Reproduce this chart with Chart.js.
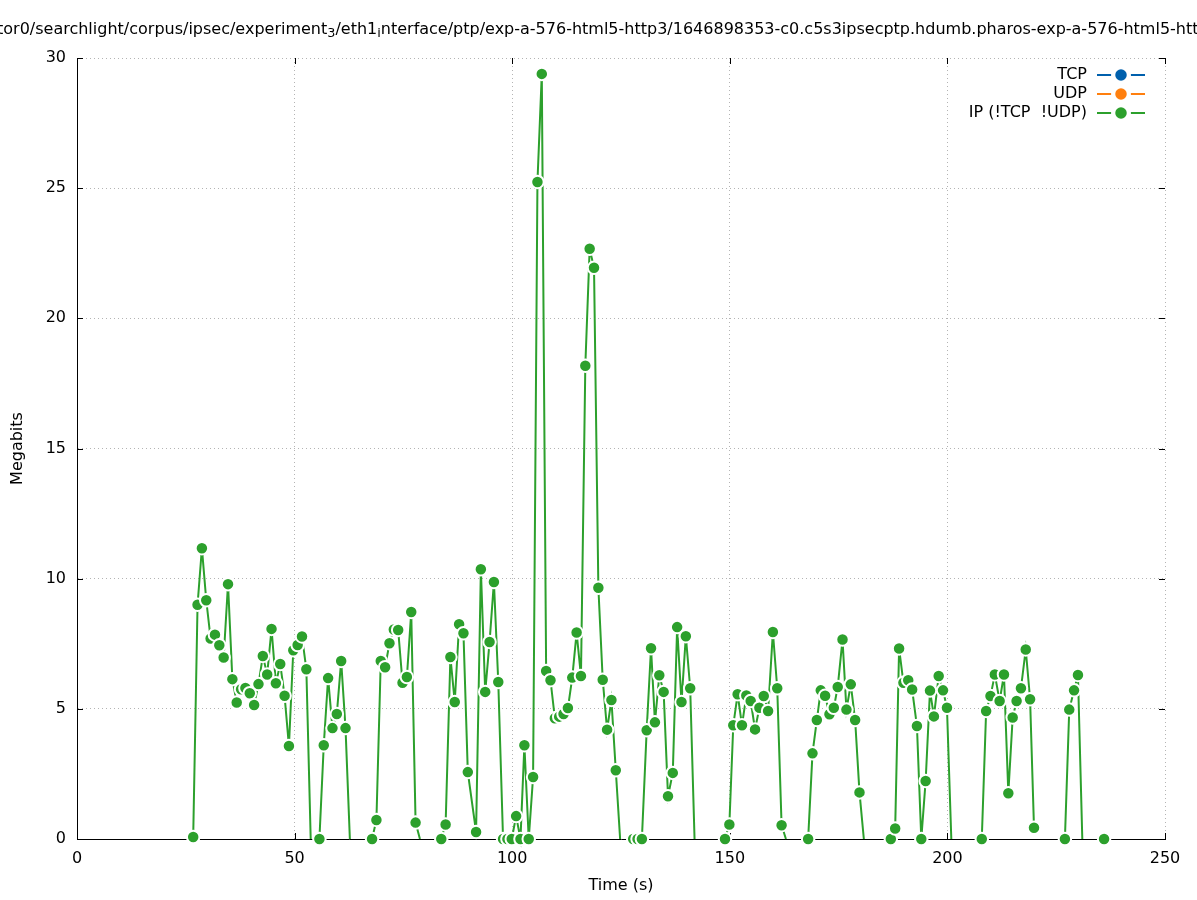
<!DOCTYPE html>
<html>
<head>
<meta charset="utf-8">
<script src="https://cdn.jsdelivr.net/npm/chart.js@4.4.1/dist/chart.umd.min.js"></script>
<style>
html,body{margin:0;padding:0;background:#fff;}
#wrap{width:1197px;height:900px;position:relative;}
</style>
</head>
<body>
<div id="wrap"><canvas id="c" width="1197" height="900"></canvas></div>
<script>
// ---- text ----
const titleParts = [
  ['tor0/searchlight/corpus/ipsec/experiment', false],
  ['3', true],
  ['/eth1', false],
  ['i', true],
  ['nterface/ptp/exp-a-576-html5-http3/1646898353-c0.c5s3ipsecptp.hdumb.pharos-exp-a-576-html5-http3', false]
];
const xTitle = 'Time (s)';
const yTitle = 'Megabits';
const seriesLabels = ['TCP', 'UDP', 'IP (!TCP  !UDP)'];
const seriesColors = ['#0060ad', '#ff7f0e', '#2ca02c'];

// ---- ticks ----
const xTicks = [0, 50, 100, 150, 200, 250];
const yTicks = [0, 5, 10, 15, 20, 25, 30];

// ---- data ----
const tcpTimes = [];
const tcpValues = [];
const udpTimes = [];
const udpValues = [];

const ipTimes = [
  26.7, 27.7, 28.7, 29.7, 30.7, 31.7, 32.7, 33.7, 34.7, 35.7, 36.7, 37.7, 38.7, 39.7, 40.7,
  41.7, 42.7, 43.7, 44.7, 45.7, 46.7, 47.7, 48.7, 49.7, 50.7, 51.7, 52.7, 53.7, 54.7,
  55.7, 56.7, 57.7, 58.7, 59.7, 60.7, 61.7, 62.7, 63.7,
  67.8, 68.8, 69.8, 70.8, 71.8, 72.8, 73.8, 74.8, 75.8, 76.8, 77.8, 78.8, 79.8,
  83.7, 84.7, 85.8, 86.8, 87.8, 88.8, 89.8, 91.7, 92.8, 93.8, 94.8, 95.8, 96.8,
  97.9, 98.9, 99.9, 100.9, 101.9, 102.8, 103.8, 104.8, 105.8, 106.8, 107.8, 108.8, 109.8,
  110.8, 111.8, 112.8, 113.8, 114.8, 115.8, 116.8, 117.8, 118.8, 119.8, 120.8, 121.8,
  122.8, 123.8, 124.8, 125.8,
  127.8, 128.8, 129.8, 130.9, 131.9, 132.8, 133.8, 134.8, 135.8, 136.9, 137.9, 138.9,
  139.9, 140.9, 141.9, 142.9,
  148.9, 149.9, 150.8, 151.8, 152.8, 153.8, 154.8, 155.8, 156.8, 157.8, 158.8, 159.9,
  160.9, 161.9, 162.9, 163.9,
  168.0, 169.0, 170.0, 170.9, 171.9, 172.9, 173.9, 174.8, 175.9, 176.8, 177.8, 178.8,
  179.8, 180.8, 181.8,
  187.0, 188.0, 188.9, 189.9, 191.0, 191.9, 193.0, 194.0, 195.0, 196.0, 196.9, 198.0,
  199.0, 199.9, 200.9, 201.9,
  207.9, 208.9, 209.9, 210.9, 212.0, 213.0, 214.0, 215.0, 215.9, 216.9, 218.0, 219.0,
  219.9, 220.9,
  227.0, 228.0, 229.1, 230.0, 231.0, 232.0,
  236.0
];
const ipValues = [
  0.08, 9.0, 11.17, 9.17, 7.7, 7.85, 7.44, 6.97, 9.79, 6.14, 5.24, 5.75, 5.8, 5.6, 5.15,
  5.95, 7.03, 6.32, 8.07, 5.98, 6.72, 5.5, 3.57, 7.25, 7.45, 7.78, 6.52, 0, null,
  0, 3.6, 6.18, 4.26, 4.8, 6.84, 4.26, 0, null,
  0, 0.73, 6.84, 6.6, 7.52, 8.05, 8.03, 6.0, 6.22, 8.72, 0.63, 0, null,
  0, 0.56, 6.99, 5.26, 8.25, 7.9, 2.57, 0.27, 10.36, 5.65, 7.57, 9.87, 6.03,
  0, 0, 0, 0.88, 0, 3.6, 0, 2.38, 25.24, 29.39, 6.45, 6.1, 4.64,
  4.7, 4.8, 5.03, 6.2, 7.93, 6.26, 18.18, 22.67, 21.94, 9.65, 6.12, 4.2,
  5.34, 2.64, 0, null,
  0, 0, 0, 4.18, 7.33, 4.48, 6.29, 5.65, 1.64, 2.54, 8.14, 5.26,
  7.79, 5.79, 0, null,
  0, 0.56, 4.37, 5.56, 4.37, 5.51, 5.3, 4.21, 5.04, 5.49, 4.92, 7.95,
  5.79, 0.53, 0, null,
  0, 3.29, 4.57, 5.71, 5.5, 4.79, 5.04, 5.84, 7.66, 4.97, 5.94, 4.57,
  1.79, 0, null,
  0, 0.4, 7.32, 6.0, 6.1, 5.74, 4.34, 0, 2.23, 5.7, 4.71, 6.26,
  5.71, 5.04, 0, null,
  0, 4.92, 5.49, 6.32, 5.3, 6.32, 1.76, 4.67, 5.3, 5.79, 7.28, 5.37,
  0.43, null,
  0, 4.97, 5.71, 6.3, 0, null,
  0
];

function pairs(ts, vs) { return ts.map((t, i) => ({ x: t, y: vs[i] })); }

const FONT = "'DejaVu Sans', 'Liberation Sans', sans-serif";

function radiusFor(values) {
  return ctx => {
    const i = ctx.dataIndex;
    const v = values[i];
    if (v === null || v === undefined) return 0;
    const prev = values[i - 1], next = values[i + 1];
    if (v === 0 && prev && (next === null || next === undefined)) return 0;
    return 6.25;
  };
}

function makeDataset(label, color, ts, vs) {
  return {
    label: label,
    data: pairs(ts, vs),
    borderColor: color,
    backgroundColor: color,
    borderWidth: 2,
    pointRadius: radiusFor(vs),
    pointHoverRadius: radiusFor(vs),
    pointBackgroundColor: color,
    pointBorderColor: '#ffffff',
    pointBorderWidth: 2,
    tension: 0,
    spanGaps: false,
    clip: false
  };
}

const decor = {
  id: 'decor',
  beforeDatasetsDraw(chart) {
    const ctx = chart.ctx, a = chart.chartArea, xs = chart.scales.x, ys = chart.scales.y;
    ctx.save();
    ctx.strokeStyle = '#000';
    ctx.lineWidth = 1;
    const L = 6;
    ctx.beginPath();
    xTicks.forEach(v => {
      const px = Math.round(xs.getPixelForValue(v)) + 0.5;
      ctx.moveTo(px, a.bottom); ctx.lineTo(px, a.bottom - L);
      ctx.moveTo(px, a.top); ctx.lineTo(px, a.top + L);
    });
    yTicks.forEach(v => {
      const py = Math.round(ys.getPixelForValue(v)) + 0.5;
      ctx.moveTo(a.left, py); ctx.lineTo(a.left + L, py);
      ctx.moveTo(a.right, py); ctx.lineTo(a.right - L, py);
    });
    ctx.stroke();
    ctx.restore();
  },
  afterDraw(chart) {
    const ctx = chart.ctx, a = chart.chartArea;
    ctx.save();
    ctx.fillStyle = '#000';
    // title with subscripts
    let x = -3;
    const ty = 30;
    ctx.textBaseline = 'middle';
    ctx.textAlign = 'left';
    titleParts.forEach(([txt, sub]) => {
      ctx.font = (sub ? '12.8px ' : '16px ') + FONT;
      ctx.fillText(txt, x, sub ? ty + 4 : ty);
      x += ctx.measureText(txt).width;
    });
    // axis titles
    ctx.font = '16px ' + FONT;
    ctx.textAlign = 'center';
    ctx.fillText(xTitle, (a.left + a.right) / 2, 886);
    ctx.save();
    ctx.translate(18, (a.top + a.bottom) / 2);
    ctx.rotate(-Math.PI / 2);
    ctx.fillText(yTitle, 0, 0);
    ctx.restore();
    // legend
    chart.data.datasets.forEach((ds, i) => {
      const y = 75 + i * 19;
      ctx.fillStyle = '#000';
      ctx.textAlign = 'right';
      ctx.font = '16px ' + FONT;
      ctx.fillText(ds.label, 1087, y);
      ctx.strokeStyle = ds.borderColor;
      ctx.lineWidth = 2;
      ctx.beginPath();
      ctx.moveTo(1097, y); ctx.lineTo(1145, y);
      ctx.stroke();
      ctx.fillStyle = '#fff';
      ctx.beginPath(); ctx.arc(1121, y, 10, 0, Math.PI * 2); ctx.fill();
      ctx.fillStyle = ds.borderColor;
      ctx.beginPath(); ctx.arc(1121, y, 5.75, 0, Math.PI * 2); ctx.fill();
    });
    ctx.restore();
  }
};

new Chart(document.getElementById('c'), {
  type: 'line',
  data: {
    datasets: [
      makeDataset(seriesLabels[0], seriesColors[0], tcpTimes, tcpValues),
      makeDataset(seriesLabels[1], seriesColors[1], udpTimes, udpValues),
      makeDataset(seriesLabels[2], seriesColors[2], ipTimes, ipValues)
    ]
  },
  options: {
    responsive: false,
    animation: false,
    devicePixelRatio: 1,
    events: [],
    layout: { padding: { top: 58, right: 32, left: 0, bottom: 0 } },
    plugins: { legend: { display: false }, title: { display: false }, tooltip: { enabled: false } },
    scales: {
      x: {
        type: 'linear',
        min: 0, max: 250,
        afterFit: s => { s.height = 61; },
        afterBuildTicks: s => { s.ticks = xTicks.map(v => ({ value: v })); },
        ticks: { color: '#000', font: { family: FONT, size: 16 }, padding: 10, maxRotation: 0, autoSkip: false },
        grid: { color: '#b4b4b4', lineWidth: 1, drawTicks: false },
        border: { display: true, color: '#000', width: 1, dash: [1, 3] }
      },
      y: {
        type: 'linear',
        min: 0, max: 30,
        afterFit: s => { s.width = 77; },
        afterBuildTicks: s => { s.ticks = yTicks.map(v => ({ value: v })); },
        ticks: { color: '#000', font: { family: FONT, size: 16 }, padding: 11, autoSkip: false },
        grid: { color: '#b4b4b4', lineWidth: 1, drawTicks: false },
        border: { display: true, color: '#000', width: 1, dash: [1, 3] }
      }
    }
  },
  plugins: [decor]
});
</script>
</body>
</html>
